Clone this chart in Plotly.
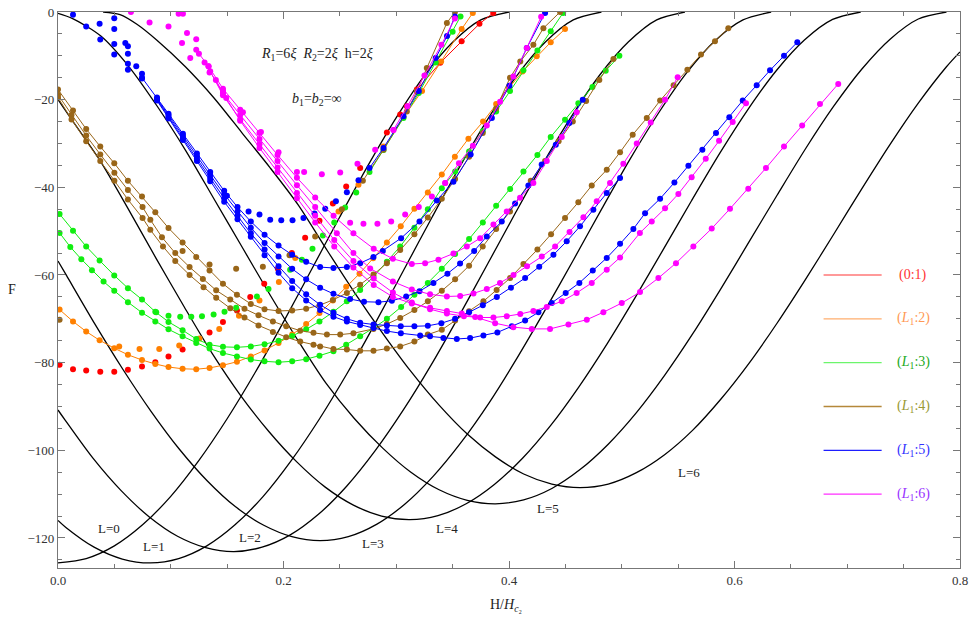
import plotly.graph_objects as go

# ---------------- black reference curves (L = 0..6) ----------------
L0_x = [0, 0.025, 0.05, 0.075, 0.1, 0.125, 0.15, 0.175, 0.2, 0.225, 0.25, 0.275, 0.3, 0.325, 0.35, 0.375, 0.4]
L0_F = [-125.7, -124.7, -121.8, -117.0, -110.5, -102.3, -92.8, -82.2, -70.7, -58.7, -46.7, -35.0, -24.1, -14.5, -6.9, -1.8, 0]

L1_x = [0, 0.007, 0.032, 0.057, 0.082, 0.107, 0.132, 0.157, 0.182, 0.207, 0.232, 0.257, 0.282, 0.307, 0.332, 0.357, 0.382, 0.407, 0.432, 0.457, 0.482]
L1_F = [-116.0, -117.6, -122.1, -124.8, -125.7, -124.7, -121.8, -117.0, -110.5, -102.3, -92.8, -82.2, -70.7, -58.7, -46.7, -35.0, -24.1, -14.5, -6.9, -1.8, 0]

L2_x = [0, 0.006, 0.031, 0.056, 0.081, 0.106, 0.131, 0.156, 0.181, 0.206, 0.231, 0.256, 0.281, 0.306, 0.331, 0.356, 0.381, 0.406, 0.431, 0.456, 0.481, 0.506, 0.531, 0.556]
L2_F = [-90.8, -93.0, -101.8, -109.2, -115.2, -119.6, -122.2, -123.1, -122.1, -119.3, -114.6, -108.2, -100.2, -90.9, -80.5, -69.2, -57.5, -45.7, -34.2, -23.6, -14.2, -6.8, -1.8, 0]

L3_x = [0, 0.0075, 0.0325, 0.0575, 0.0825, 0.1075, 0.1325, 0.1575, 0.1825, 0.2075, 0.2325, 0.2575, 0.2825, 0.3075, 0.3325, 0.3575, 0.3825, 0.4075, 0.4325, 0.4575, 0.4825, 0.5075, 0.5325, 0.5575, 0.5825, 0.6075, 0.6325]
L3_F = [-56.8, -60.1, -71.1, -81.5, -91.1, -99.7, -107.0, -112.9, -117.1, -119.7, -120.6, -119.7, -116.9, -112.3, -106.0, -98.2, -89.1, -78.8, -67.8, -56.4, -44.8, -33.5, -23.1, -13.9, -6.6, -1.8, 0]

L4_x = [0, 0.012, 0.037, 0.062, 0.087, 0.112, 0.137, 0.162, 0.187, 0.212, 0.237, 0.262, 0.287, 0.312, 0.337, 0.362, 0.387, 0.412, 0.437, 0.462, 0.487, 0.512, 0.537, 0.562, 0.587, 0.612, 0.637, 0.662, 0.687, 0.712]
L4_F = [-20.0, -24.5, -33.8, -44.8, -56.2, -67.3, -78.0, -87.5, -95.7, -102.7, -108.4, -112.5, -115.0, -115.8, -114.9, -112.2, -107.8, -101.8, -94.3, -85.5, -75.7, -65.1, -54.1, -43.0, -32.2, -22.2, -13.4, -6.4, -1.7, 0]

L5_x = [0, 0.013, 0.038, 0.063, 0.088, 0.113, 0.138, 0.163, 0.188, 0.213, 0.238, 0.263, 0.288, 0.313, 0.338, 0.363, 0.388, 0.413, 0.438, 0.463, 0.488, 0.513, 0.538, 0.563, 0.588, 0.613, 0.638, 0.663, 0.688, 0.713, 0.738, 0.763, 0.788]
L5_F = [-0.3, -1.5, -5.5, -12.5, -21.5, -31.5, -42.5, -53.5, -64.5, -75.0, -84.8, -92.8, -99.5, -105.0, -109.0, -111.4, -112.2, -111.3, -108.7, -104.4, -98.6, -91.4, -82.9, -73.4, -63.1, -52.4, -41.7, -31.2, -21.5, -13.0, -6.2, -1.6, 0]

L6_x = [0.04, 0.055, 0.07, 0.088, 0.113, 0.138, 0.163, 0.188, 0.213, 0.238, 0.263, 0.288, 0.313, 0.338, 0.363, 0.388, 0.413, 0.438, 0.463, 0.488, 0.513, 0.538, 0.563, 0.588, 0.613, 0.638, 0.663, 0.688, 0.713, 0.738, 0.763, 0.788, 0.8]
L6_F = [0, -0.6, -2.8, -6.5, -12.5, -19.5, -27.5, -35.5, -44.0, -54.1, -64.0, -73.3, -82.0, -89.7, -96.3, -101.5, -105.4, -107.7, -108.5, -107.7, -105.1, -101.0, -95.4, -88.3, -80.1, -70.9, -61.0, -50.7, -40.3, -30.2, -20.8, -12.5, -9.1]

curve_labels = ["L=0", "L=1", "L=2", "L=3", "L=4", "L=5", "L=6"]
label_x = [0.0449, 0.0848, 0.1699, 0.2798, 0.3449, 0.4349, 0.560]
label_F = [-117.9, -121.9, -120.0, -121.2, -117.9, -113.2, -105.0]

# ---------------- (0:1) red ----------------
red_dot_x = [0.0014, 0.0133, 0.025, 0.0375, 0.0499, 0.062, 0.0745, 0.0863, 0.098, 0.1105, 0.1344, 0.1463, 0.1587, 0.1705, 0.1829, 0.195, 0.2074, 0.2192, 0.2319, 0.2438, 0.2556, 0.268, 0.2917, 0.3035, 0.3094]
red_dot_F = [-80.5, -81.5, -81.8, -82.1, -82.1, -81.6, -80.9, -79.9, -78.6, -77.0, -73.1, -70.7, -68.1, -65.0, -62.0, -58.6, -55.0, -51.5, -47.6, -43.7, -39.8, -35.6, -27.5, -23.4, -21.5]
red_line_x = [0.3183, 0.339, 0.358, 0.3738, 0.386]
red_line_F = [-17.7, -11.6, -6.7, -2.7, -0.2]

# ---------------- (L1:2) orange ----------------
or1_x = [0.0014, 0.0133, 0.025, 0.0369, 0.0499, 0.062, 0.0745, 0.0863, 0.098, 0.1105, 0.1226, 0.1344, 0.1463, 0.1587, 0.171, 0.1832, 0.1956, 0.2077, 0.2201, 0.2319, 0.2438, 0.2556, 0.2674, 0.2795, 0.2917, 0.304, 0.3161, 0.328, 0.3404, 0.352, 0.364, 0.377, 0.3886, 0.4, 0.412, 0.4246, 0.437, 0.4497]
or1_F = [-67.9, -70.6, -72.9, -74.9, -76.7, -78.2, -79.4, -80.3, -81.0, -81.4, -81.5, -81.2, -80.6, -79.8, -78.6, -77.2, -75.5, -73.6, -71.2, -68.7, -65.8, -62.7, -59.7, -56.2, -52.6, -48.9, -44.9, -41.2, -37.1, -33.0, -28.9, -25.0, -21.0, -17.3, -13.6, -10.1, -6.9, -3.9]
or2_x = [0.0543, 0.0723, 0.0898, 0.1075, 0.1255, 0.143, 0.1605, 0.1787, 0.1959, 0.2104, 0.2488, 0.2665, 0.2887]
or2_F = [-76.3, -76.9, -76.9, -76.1, -74.5, -72.3, -69.3, -65.8, -61.6, -56.1, -45.5, -39.4, -30.7]
or3_x = [0.3064, 0.3229, 0.3398, 0.358, 0.3679]
or3_F = [-24.0, -18.0, -11.3, -3.9, -0.2]

# ---------------- (L1:3) green ----------------
g1_x = [0.0014, 0.0133, 0.025, 0.0369, 0.0499, 0.062, 0.0745, 0.0863, 0.098, 0.1105, 0.1226, 0.1344, 0.1463, 0.1587, 0.171, 0.1832, 0.1956, 0.2077, 0.2201, 0.2319, 0.2443, 0.2562, 0.268, 0.2798, 0.2917, 0.3035, 0.3161, 0.328, 0.3404, 0.3522, 0.3646, 0.3767, 0.3886, 0.4009, 0.4128, 0.4252, 0.437, 0.448]
g1_F = [-46.1, -49.9, -53.5, -56.7, -60.1, -63.0, -65.6, -68.4, -70.7, -72.6, -74.6, -75.9, -76.4, -76.5, -76.3, -75.8, -75.0, -73.9, -72.4, -70.6, -68.4, -66.0, -63.4, -60.4, -57.0, -53.5, -49.2, -45.0, -40.2, -36.4, -31.8, -27.2, -22.7, -18.0, -13.3, -8.8, -4.4, -0.2]
g2_x = [0.0014, 0.0109, 0.0207, 0.0301, 0.0404, 0.0499, 0.062, 0.0745, 0.0863, 0.098, 0.1105, 0.1226, 0.1344, 0.1463, 0.1587, 0.171, 0.1832, 0.1956, 0.2077, 0.2201, 0.2319, 0.2443, 0.2556, 0.268, 0.2798, 0.2917, 0.3043, 0.3161, 0.328, 0.3404, 0.3522, 0.3646, 0.3768, 0.3886, 0.401, 0.4128, 0.4252, 0.437, 0.4497, 0.4615, 0.474, 0.4858, 0.4979]
g2_F = [-50.4, -53.6, -56.4, -58.9, -61.5, -63.6, -66.2, -68.6, -70.6, -72.4, -74.0, -75.5, -76.8, -77.8, -78.6, -79.3, -79.7, -79.9, -79.7, -79.2, -78.4, -77.4, -75.9, -74.0, -72.1, -70.0, -67.3, -64.5, -61.8, -58.6, -55.2, -51.8, -48.0, -44.2, -40.4, -36.4, -32.6, -28.5, -24.6, -20.8, -17.1, -13.4, -10.0]
g3_x = [0.0871, 0.098, 0.1084, 0.1182, 0.1277, 0.138, 0.1477, 0.158, 0.1764, 0.1867, 0.2059, 0.2163, 0.2257, 0.2349, 0.245, 0.2547, 0.2645]
g3_F = [-68.5, -69.3, -69.5, -69.5, -69.4, -69.0, -68.4, -67.5, -64.9, -63.2, -58.8, -56.5, -54.0, -51.0, -48.0, -44.6, -41.2]
g4_x = [0.2763, 0.2887, 0.3064, 0.32, 0.335, 0.35, 0.357]
g4_F = [-36.5, -31.5, -24.2, -18.5, -11.5, -4.5, -1.0]

# ---------------- (L1:4) brown ----------------
b1_x = [0, 0.0133, 0.025, 0.0375, 0.0499, 0.062, 0.0745, 0.0863, 0.098, 0.1105, 0.1226, 0.1344, 0.1463, 0.1587, 0.171, 0.1832, 0.1956, 0.2077, 0.2201, 0.2319, 0.2438, 0.2562, 0.268, 0.2798, 0.2917, 0.3035, 0.3161, 0.328, 0.3404, 0.3522, 0.3646, 0.3767, 0.3886, 0.4009, 0.41, 0.4216, 0.4305, 0.4453]
b1_F = [-17.7, -22.5, -26.7, -30.7, -34.5, -38.5, -42.1, -45.7, -49.3, -52.6, -55.9, -59.0, -62.0, -64.5, -66.6, -67.8, -68.2, -68.1, -67.7, -66.9, -65.7, -64.1, -62.2, -59.9, -57.3, -54.3, -50.7, -46.9, -42.6, -38.1, -33.0, -27.6, -22.0, -15.0, -11.3, -7.5, -3.7, 0]
b2_x = [0, 0.012, 0.025, 0.0375, 0.05, 0.062, 0.075, 0.0819, 0.0922, 0.104, 0.1167, 0.1285, 0.1403, 0.1528, 0.1654, 0.1778, 0.1906, 0.2024, 0.2148, 0.2266, 0.2385, 0.2503, 0.262, 0.2798, 0.2917, 0.3035, 0.3161, 0.328, 0.3404, 0.3522, 0.3646, 0.3767, 0.3886, 0.4009, 0.4193, 0.432, 0.444, 0.4566, 0.4684, 0.4801, 0.4926]
b2_F = [-18.9, -23.5, -28.2, -32.5, -36.7, -40.6, -44.5, -47.4, -51.4, -55.0, -58.2, -60.9, -63.5, -65.6, -67.7, -69.2, -70.6, -71.7, -72.7, -73.2, -73.6, -73.6, -73.3, -72.3, -71.2, -69.8, -68.0, -66.0, -63.6, -61.0, -57.9, -53.5, -49.5, -45.5, -38.5, -34.0, -29.5, -25.0, -20.3, -15.5, -10.7]
b3_x = [0, 0.012, 0.025, 0.0375, 0.05, 0.062, 0.075, 0.0819, 0.0931, 0.104, 0.1167, 0.1291, 0.1403, 0.1528, 0.1654, 0.1778, 0.1906, 0.2024, 0.2148, 0.2266, 0.2325, 0.2443, 0.2562, 0.268, 0.2798, 0.2917, 0.3035, 0.3161, 0.328, 0.3404, 0.3522, 0.3646, 0.3773, 0.389, 0.401, 0.4128, 0.4252, 0.4373, 0.4497, 0.4615, 0.4734, 0.4867, 0.4985, 0.5097, 0.5222, 0.534, 0.546, 0.5582, 0.5703, 0.5827, 0.5945]
b3_F = [-19.5, -24.5, -29.5, -34.0, -38.5, -42.8, -47.0, -49.7, -53.5, -56.8, -60.0, -62.8, -65.2, -67.6, -69.7, -71.5, -73.0, -74.2, -75.2, -75.9, -76.3, -76.9, -77.0, -77.3, -77.3, -76.8, -76.3, -75.2, -73.6, -72.5, -70.4, -68.3, -66.0, -63.4, -60.7, -57.5, -54.2, -50.7, -47.0, -43.4, -39.6, -36.0, -32.0, -28.0, -24.2, -20.2, -16.7, -13.2, -9.7, -6.7, -3.7]
b4_x = [0.0014, 0.1105, 0.1344, 0.158, 0.1817, 0.2053, 0.2281, 0.2518]
b4_F = [-70.2, -54.5, -57.6, -58.6, -58.1, -55.5, -51.2, -45.0]
b5_x = [0.2704, 0.2887, 0.3094, 0.3183, 0.3271, 0.3449, 0.352]
b5_F = [-38.5, -31.4, -22.7, -18.1, -12.8, -2.5, 0]

# ---------------- (L1:5) blue ----------------
bl_dot_x = [0.0133, 0.025, 0.0369, 0.0375, 0.0499, 0.0499, 0.0499, 0.0499, 0.0597, 0.062, 0.062, 0.062, 0.062, 0.0694, 0.0745, 0.0745, 0.1498, 0.169, 0.1787, 0.1882, 0.198, 0.208, 0.2177, 0.2275, 0.237, 0.2465, 0.2562, 0.2665]
bl_dot_F = [-0.6, -3.3, -2.7, -6.3, -1.4, -3.9, -7.3, -9.7, -7.1, -7.8, -9.5, -11.8, -13.2, -12.4, -14.1, -15.2, -41.9, -45.5, -46.2, -47.4, -47.5, -47.5, -47.0, -46.0, -44.9, -43.2, -41.1, -38.4]
bl_v_x = [0.2763, 0.2887, 0.3064, 0.32, 0.335, 0.345, 0.352]
bl_v_F = [-35.6, -31.0, -23.8, -18.0, -10.5, -5.5, -1.0]
bl2_x = [0.0745, 0.0878, 0.098, 0.1108, 0.1232, 0.135, 0.1474, 0.1592, 0.171, 0.1832, 0.1956, 0.2077, 0.2201, 0.2325, 0.2443, 0.2562, 0.268, 0.2798, 0.2881, 0.3043, 0.3206, 0.336, 0.3507, 0.366, 0.3848, 0.4004, 0.4158, 0.432]
bl2_F = [-15.0, -19.5, -23.2, -27.8, -32.3, -36.5, -40.8, -44.5, -47.8, -50.8, -53.3, -55.4, -57.0, -58.2, -58.4, -58.2, -57.3, -55.9, -54.5, -51.6, -47.8, -43.0, -38.7, -32.5, -24.2, -16.8, -8.2, -0.2]
bl3_x = [0.0878, 0.098, 0.1108, 0.1232, 0.135, 0.1474, 0.1592, 0.171, 0.1832, 0.1956, 0.2077, 0.2201, 0.2325, 0.2443, 0.2591, 0.2714, 0.2842, 0.2961, 0.3088, 0.3206, 0.333, 0.3454, 0.3566, 0.3691, 0.3803, 0.3936, 0.4054, 0.4172, 0.429, 0.4415, 0.4535, 0.4654]
bl3_F = [-19.8, -23.6, -28.3, -32.9, -37.2, -41.6, -45.5, -49.2, -52.7, -55.8, -58.6, -61.0, -62.9, -64.3, -65.5, -66.1, -66.2, -65.9, -64.9, -63.7, -61.8, -59.7, -57.4, -54.5, -51.2, -47.8, -43.7, -39.6, -34.8, -30.3, -25.3, -20.0]
bl4_x = [0.0878, 0.098, 0.1108, 0.1232, 0.135, 0.1474, 0.1592, 0.171, 0.1832, 0.1956, 0.2077, 0.2201, 0.2325, 0.2443, 0.2562, 0.268, 0.2798, 0.2917, 0.304, 0.3161, 0.328, 0.34, 0.3522, 0.3646, 0.3768, 0.3892, 0.4017, 0.4143, 0.4268, 0.4394, 0.4512, 0.463, 0.4748, 0.4867, 0.4985]
bl4_F = [-20.0, -24.0, -28.8, -33.5, -38.0, -42.5, -46.5, -50.5, -54.2, -58.0, -61.4, -64.4, -66.8, -68.6, -70.0, -70.9, -71.3, -71.5, -71.7, -71.7, -71.6, -71.0, -70.0, -68.5, -66.9, -65.0, -62.9, -60.7, -58.1, -55.4, -52.3, -48.9, -45.1, -41.3, -37.9]
bl5_x = [0.0878, 0.098, 0.1108, 0.1232, 0.135, 0.1474, 0.1592, 0.171, 0.1832, 0.1956, 0.2077, 0.2201, 0.2325, 0.2443, 0.2562, 0.268, 0.2798, 0.2917, 0.3041, 0.3212, 0.33, 0.3418, 0.3537, 0.3655, 0.3773, 0.3897, 0.4025, 0.4143, 0.4261, 0.4379, 0.4503, 0.4624, 0.4743, 0.4867, 0.4985, 0.5103, 0.5207, 0.534, 0.5467, 0.5591, 0.5715, 0.5836, 0.5954, 0.6073, 0.6197, 0.6315, 0.6439, 0.6557]
bl5_F = [-20.2, -24.3, -29.2, -34.0, -38.6, -43.3, -47.3, -51.3, -55.5, -59.5, -63.0, -65.8, -68.0, -69.5, -70.6, -71.4, -72.1, -72.8, -73.3, -73.8, -74.0, -74.4, -74.6, -74.4, -73.8, -73.1, -71.7, -70.4, -68.5, -66.4, -64.1, -61.8, -59.0, -56.1, -52.9, -49.5, -45.9, -42.6, -38.9, -35.1, -31.4, -27.6, -24.0, -20.2, -16.7, -13.3, -10.0, -6.9]

# ---------------- (L1:6) magenta ----------------
mg_dot_x = [0.0647, 0.0812, 0.098, 0.107, 0.1108, 0.11, 0.1144, 0.1173, 0.1226, 0.1226, 0.1335, 0.1344, 0.1463, 0.1492, 0.164, 0.18, 0.1956, 0.2119, 0.2183, 0.234, 0.2503, 0.2656, 0.2813, 0.2975]
mg_dot_F = [0.0, -2.4, -3.3, -0.4, -0.4, -7.1, -4.8, -10.5, -6.2, -8.6, -12.4, -13.8, -17.9, -19.6, -22.9, -27.4, -32.0, -36.5, -36.5, -37.0, -36.6, -34.6, -31.4, -26.9]
mg_v_x = [0.2975, 0.31, 0.325, 0.34, 0.352]
mg_v_F = [-26.9, -21.5, -14.5, -7.5, -1.5]
mg2_x = [0.2591, 0.2709, 0.2833, 0.2955, 0.3079, 0.32, 0.3316, 0.3434]
mg2_F = [-48.1, -48.3, -48.3, -47.8, -46.2, -44.5, -42.1, -39.0]
mg2l_x = [0.3434, 0.3556, 0.368, 0.3803, 0.3921, 0.4039, 0.4158, 0.4285]
mg2l_F = [-39.0, -34.5, -30.5, -25.9, -20.5, -14.7, -8.2, -1.1]
mg3_x = [0.125, 0.1335, 0.1463, 0.1616, 0.1787, 0.1947, 0.2119, 0.2281, 0.2444, 0.262, 0.28, 0.297, 0.3138, 0.3256, 0.3374, 0.3507, 0.3626, 0.3744, 0.3862, 0.398, 0.4098, 0.4216, 0.4335, 0.4468, 0.46]
mg3_F = [-9.5, -12.4, -17.5, -22.3, -27.6, -32.6, -37.8, -42.3, -46.5, -50.5, -54.0, -56.3, -57.5, -57.3, -56.5, -55.1, -53.5, -51.6, -48.5, -45.5, -42.4, -39.0, -34.0, -28.5, -22.9]
mg4_x = [0.13, 0.1463, 0.1616, 0.1787, 0.1947, 0.2119, 0.2281, 0.2473, 0.262, 0.2769, 0.297, 0.3138, 0.33, 0.3449, 0.3567, 0.3685, 0.3803, 0.392, 0.404, 0.416, 0.4291, 0.4409, 0.4537, 0.466, 0.4778, 0.4896, 0.5014, 0.5133, 0.5257, 0.5384, 0.5496]
mg4_F = [-11.5, -18.5, -23.5, -29.0, -34.0, -39.5, -44.5, -50.5, -55.0, -58.5, -61.5, -63.3, -64.4, -64.9, -64.8, -64.2, -63.2, -61.8, -60.0, -58.0, -55.8, -53.5, -50.2, -46.8, -43.2, -39.0, -34.6, -30.0, -25.2, -20.0, -14.9]
mg5_x = [0.135, 0.1463, 0.1616, 0.1787, 0.1947, 0.2119, 0.2281, 0.245, 0.262, 0.28, 0.297, 0.3138, 0.33, 0.3449, 0.36, 0.3744, 0.3862, 0.398, 0.41, 0.4216, 0.4335, 0.4468, 0.46, 0.4734, 0.4867, 0.4985, 0.5161, 0.5266, 0.5384, 0.5502, 0.562, 0.5745, 0.5863, 0.5984, 0.6102]
mg5_F = [-13.5, -19.0, -24.5, -30.2, -35.5, -41.3, -46.5, -52.0, -56.8, -60.8, -64.0, -66.3, -67.8, -68.8, -69.4, -69.7, -69.7, -69.4, -68.9, -68.2, -67.3, -66.0, -64.1, -61.8, -58.8, -56.0, -50.4, -47.8, -44.8, -41.5, -37.7, -33.5, -29.4, -25.1, -20.8]
mg6_x = [0.14, 0.1463, 0.1616, 0.1787, 0.1947, 0.2119, 0.2281, 0.245, 0.262, 0.28, 0.297, 0.3138, 0.33, 0.3449, 0.3581, 0.37, 0.3877, 0.4039, 0.4202, 0.4364, 0.4527, 0.469, 0.4837, 0.5, 0.5162, 0.5325, 0.5481, 0.5635, 0.5798, 0.596, 0.6122, 0.6279, 0.6439, 0.66, 0.6758, 0.692]
mg6_F = [-15.5, -18.5, -24.8, -31.0, -36.5, -42.5, -48.0, -53.5, -58.3, -62.3, -65.0, -66.5, -67.5, -68.2, -68.8, -69.6, -71.0, -71.9, -72.3, -72.3, -71.3, -70.2, -68.5, -66.4, -63.9, -60.7, -57.3, -53.5, -49.4, -44.9, -40.3, -35.6, -30.7, -25.9, -21.0, -16.4]

# ---------------- legend ----------------
legend_labels = ["(0:1)", "(<i>L</i><sub>1</sub>:2)", "(<i>L</i><sub>1</sub>:3)", "(<i>L</i><sub>1</sub>:4)", "(<i>L</i><sub>1</sub>:5)", "(<i>L</i><sub>1</sub>:6)"]
legend_F = [-60, -70, -80, -90, -100, -110]
legend_line_colors = ["#FF7777", "#FFAE6E", "#6CF56C", "#B5883A", "#1E1EFF", "#FF2EFF"]
legend_text_colors = ["#FF3333", "#FF9955", "#22AA22", "#999933", "#3333FF", "#9933FF"]

RED, ORANGE, GREEN, BROWN, BLUE, MAG = "#FF0000", "#FF8000", "#10EE10", "#996619", "#0000FF", "#FF00FF"
FONT = "Liberation Serif"

fig = go.Figure()

for xs, fs in [(L0_x, L0_F), (L1_x, L1_F), (L2_x, L2_F), (L3_x, L3_F), (L4_x, L4_F), (L5_x, L5_F), (L6_x, L6_F)]:
    fig.add_trace(go.Scatter(x=xs, y=fs, mode="lines",
                             line=dict(color="black", width=1.3, shape="spline", smoothing=0.8),
                             hoverinfo="skip", showlegend=False))


def add_line(xs, fs, color):
    fig.add_trace(go.Scatter(x=xs, y=fs, mode="lines+markers",
                             line=dict(color=color, width=1),
                             marker=dict(color=color, size=6),
                             showlegend=False))


def add_dots(xs, fs, color):
    fig.add_trace(go.Scatter(x=xs, y=fs, mode="markers",
                             marker=dict(color=color, size=6),
                             showlegend=False))


add_dots(red_dot_x, red_dot_F, RED)
add_line(red_line_x, red_line_F, RED)

add_line(or1_x, or1_F, ORANGE)
add_dots(or2_x, or2_F, ORANGE)
add_line(or3_x, or3_F, ORANGE)

add_line(g1_x, g1_F, GREEN)
add_line(g2_x, g2_F, GREEN)
add_dots(g3_x, g3_F, GREEN)
add_line(g4_x, g4_F, GREEN)

add_line(b1_x, b1_F, BROWN)
add_line(b2_x, b2_F, BROWN)
add_line(b3_x, b3_F, BROWN)
add_dots(b4_x, b4_F, BROWN)
add_line(b5_x, b5_F, BROWN)

add_dots(bl_dot_x, bl_dot_F, BLUE)
add_line(bl_v_x, bl_v_F, BLUE)
add_line(bl2_x, bl2_F, BLUE)
add_line(bl3_x, bl3_F, BLUE)
add_line(bl4_x, bl4_F, BLUE)
add_line(bl5_x, bl5_F, BLUE)

add_dots(mg_dot_x, mg_dot_F, MAG)
add_line(mg_v_x, mg_v_F, MAG)
add_dots(mg2_x, mg2_F, MAG)
add_line(mg2l_x, mg2l_F, MAG)
add_line(mg3_x, mg3_F, MAG)
add_line(mg4_x, mg4_F, MAG)
add_line(mg5_x, mg5_F, MAG)
add_line(mg6_x, mg6_F, MAG)

annotations = []
for t, x, y in zip(curve_labels, label_x, label_F):
    annotations.append(dict(x=x, y=y, text=t, showarrow=False, font=dict(family=FONT, size=13, color="#222")))

annotations.append(dict(x=0.2296, y=-9.7, text="<i>R</i><sub>1</sub>=6<i>ξ</i>\u00a0\u00a0<i>R</i><sub>2</sub>=2<i>ξ</i>\u00a0\u00a0h=2<i>ξ</i>",
                        showarrow=False, font=dict(family=FONT, size=14, color="#222")))
annotations.append(dict(x=0.2296, y=-20.0, text="<i>b</i><sub>1</sub>=<i>b</i><sub>2</sub>=∞",
                        showarrow=False, font=dict(family=FONT, size=14, color="#222")))

shapes = []
for lab, fy, lc, tc in zip(legend_labels, legend_F, legend_line_colors, legend_text_colors):
    shapes.append(dict(type="line", xref="x", yref="y", x0=0.679, x1=0.7305, y0=fy, y1=fy,
                       line=dict(color=lc, width=1.3)))
    annotations.append(dict(x=0.7585, y=fy, text=lab, showarrow=False,
                            font=dict(family=FONT, size=14, color=tc)))

annotations.append(dict(x=0.397, xref="x", y=-0.068, yref="paper", text="H/<i>H</i><sub><i>c</i>₂</sub>",
                        xanchor="center", yanchor="middle",
                        showarrow=False, font=dict(family=FONT, size=14, color="#222")))
annotations.append(dict(x=-0.051, xref="paper", y=-63.4, yref="y", text="F",
                        xanchor="center", yanchor="middle",
                        showarrow=False, font=dict(family=FONT, size=14, color="#222")))

axis_common = dict(showgrid=False, zeroline=False, showline=True, linecolor="#777", linewidth=1.3,
                   mirror="ticks", ticks="inside", tickcolor="#777", ticklen=7, tickwidth=1,
                   automargin=False,
                   tickfont=dict(family=FONT, size=13, color="#333"))

fig.update_layout(
    width=971, height=617,
    margin=dict(l=58, r=11, t=12, b=49),
    paper_bgcolor="white", plot_bgcolor="white",
    showlegend=False,
    xaxis=dict(range=[0, 0.8], tickvals=[0, 0.2, 0.4, 0.6, 0.8], ticktext=["0.0", "0.2", "0.4", "0.6", "0.8"],
               minor=dict(dtick=0.05, tick0=0, ticks="inside", ticklen=4, tickcolor="#777"), **axis_common),
    yaxis=dict(range=[-126.85, 0], tickvals=[-120, -100, -80, -60, -40, -20, 0],
               minor=dict(dtick=5, tick0=0, ticks="inside", ticklen=4, tickcolor="#777"), **axis_common),
    annotations=annotations,
    shapes=shapes,
)

fig.write_html("out.html")
